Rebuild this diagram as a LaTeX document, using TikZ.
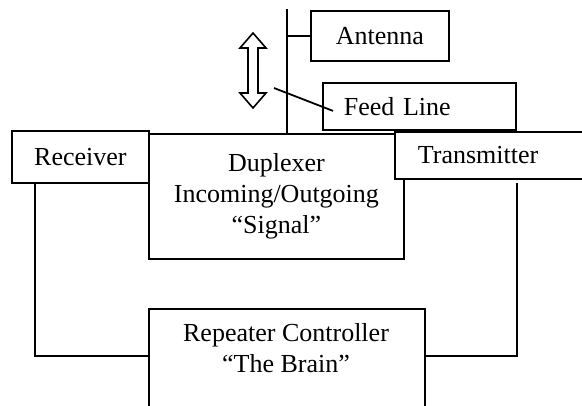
\documentclass[tikz,border=0pt]{standalone}
\usepackage{fontspec}
\setmainfont{Liberation Serif}
\usetikzlibrary{calc}
\begin{document}
\begin{tikzpicture}[x=1pt,y=-1pt, line width=1.8pt,
  box/.style={draw, inner sep=0pt, font=\fontsize{26}{31}\selectfont, align=center, anchor=north west},
  txt/.style={inner sep=0pt, font=\fontsize{26}{31}\selectfont, align=center},
  conn/.style={draw, line width=1.8pt}]
\path[use as bounding box] (0,0) rectangle (582,405);
\clip (0,0) rectangle (582,405);
% boxes
\node[box, minimum width=138, minimum height=50] (ant) at (310,10) {Antenna};
\node[box, text width=151pt, inner xsep=21pt, align=left, minimum height=47] (feed) at (322,82) {Feed Line};
\node[box, minimum width=137, minimum height=52] (rec) at (11,130) {Receiver};
\node[box, minimum width=255, minimum height=125] (dup) at (148,133) {Duplexer\\Incoming/Outgoing\\“Signal”};
\node[box, fill=white, text width=154pt, inner xsep=23pt, align=left, minimum height=47] (tra) at (394,131) {Transmitter};
\node[box, minimum width=276, minimum height=130] (rep) at (148,308) {};
\node[txt] (reptxt) at (286,348.6) {Repeater Controller\\“The Brain”};
% mast and feed
\coordinate (mtop) at (287,9);
\draw[conn] (mtop) -- (mtop |- dup.north);
\draw[conn] (mtop |- ant.west) -- (ant.west);
\coordinate (fs) at (274,88);
\draw[conn] (fs) -- ($(feed.west)+(11,4.5)$);
% loops
\coordinate (rl) at (35,356);
\draw[conn] (rec.south -| rl) -- (rl) -- (rl -| rep.west);
\coordinate (ttop) at (517,183);
\coordinate (tl) at (517,356);
\draw[conn] (ttop) -- (tl) -- (tl -| rep.east);
% double arrow
\draw[line width=1.6pt, line join=miter] (253,33) -- (266,48) -- (258,48) -- (258,93) -- (266,93) -- (253,108) -- (240,93) -- (248,93) -- (248,48) -- (240,48) -- cycle;
\end{tikzpicture}
\end{document}
